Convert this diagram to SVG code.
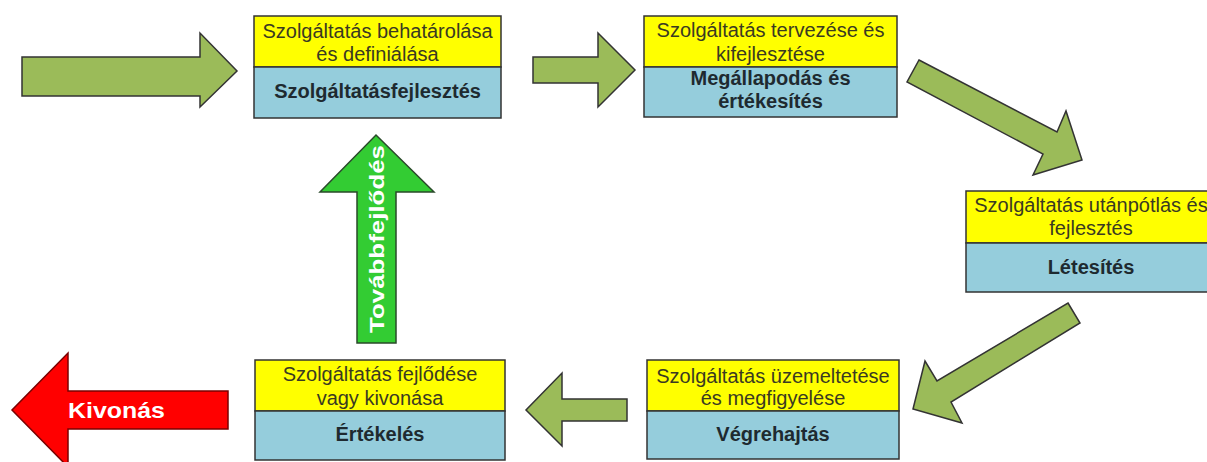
<svg xmlns="http://www.w3.org/2000/svg" width="1207" height="462" viewBox="0 0 1207 462">
  <style>
    .top { fill: #ffff00; stroke: #333; stroke-width: 1.5; }
    .bottom { fill: #95cddc; stroke: #333; stroke-width: 1.5; }
    .t { font-family: "Liberation Sans", Arial, sans-serif; font-size: 20px; fill: #3a3a22; text-anchor: middle; }
    .b { font-family: "Liberation Sans", Arial, sans-serif; font-size: 20px; font-weight: bold; fill: #1e2a30; text-anchor: middle; }
    .flow { fill: #9bbb59; stroke: #333; stroke-width: 1.5; stroke-linejoin: miter; }
    .up { fill: #33cc33; stroke: #2a4a2a; stroke-width: 1.5; }
    .out { fill: #ff0000; stroke: #7a0000; stroke-width: 1.5; }
    .lbl { font-family: "Liberation Sans", Arial, sans-serif; font-weight: bold; fill: #ffffff; }
  </style>
  <rect width="1207" height="462" fill="#ffffff"/>

  <!-- flow arrows between the stages -->
  <g id="connectors">
    <polygon class="flow" points="22,57 200,57 200,33 237,71 200,107 200,96 22,96"/>
    <polygon class="flow" points="533,57 598,57 598,33 635,70 598,107 598,83 533,83"/>
    <polygon class="flow" points="919,60 1057,132 1066,111 1082,160 1033,175 1043,154 907,82"/>
    <polygon class="flow" points="1068,303 1080,323 951,402 962,423 913,409 925,361 937,381"/>
    <polygon class="flow" points="627,399 562,399 562,373 526,410 562,446 562,421 627,421"/>
  </g>

  <g id="tovabbfejlodes">
    <polygon class="up" points="357,343 357,192 320,192 376,135 434,192 396,192 396,343"/>
    <text class="lbl" font-size="21" transform="translate(384,239) rotate(-90)" text-anchor="middle" textLength="188" lengthAdjust="spacingAndGlyphs">Továbbfejlődés</text>
  </g>

  <g id="kivonas">
    <polygon class="out" points="228,391 68,391 68,353 12,410 68,467 68,429 228,429"/>
    <text class="lbl" font-size="22" x="68" y="418" textLength="97" lengthAdjust="spacingAndGlyphs">Kivonás</text>
  </g>

  <g id="szolgaltatasfejlesztes">
    <rect class="top" x="254" y="16" width="247" height="51"/>
    <rect class="bottom" x="254" y="67" width="247" height="51"/>
    <text class="t" x="377.5" y="38">Szolgáltatás behatárolása</text>
    <text class="t" x="377.5" y="61">és definiálása</text>
    <text class="b" x="377.5" y="98">Szolgáltatásfejlesztés</text>
  </g>

  <g id="megallapodas">
    <rect class="top" x="644" y="16" width="253" height="51"/>
    <rect class="bottom" x="644" y="67" width="253" height="50"/>
    <text class="t" x="770.5" y="37">Szolgáltatás tervezése és</text>
    <text class="t" x="770.5" y="61">kifejlesztése</text>
    <text class="b" x="770.5" y="85">Megállapodás és</text>
    <text class="b" x="770.5" y="108">értékesítés</text>
  </g>

  <g id="letesites">
    <rect class="top" x="966" y="191" width="250" height="52"/>
    <rect class="bottom" x="966" y="243" width="250" height="49"/>
    <text class="t" x="1091" y="212">Szolgáltatás utánpótlás és</text>
    <text class="t" x="1091" y="235">fejlesztés</text>
    <text class="b" x="1091" y="274">Létesítés</text>
  </g>

  <g id="vegrehajtas">
    <rect class="top" x="647" y="360" width="252" height="51"/>
    <rect class="bottom" x="647" y="411" width="252" height="48"/>
    <text class="t" x="773" y="383">Szolgáltatás üzemeltetése</text>
    <text class="t" x="773" y="405">és megfigyelése</text>
    <text class="b" x="773" y="441">Végrehajtás</text>
  </g>

  <g id="ertekeles">
    <rect class="top" x="255" y="360" width="250" height="51"/>
    <rect class="bottom" x="255" y="411" width="250" height="49"/>
    <text class="t" x="380" y="381" font-size="22">Szolgáltatás fejlődése</text>
    <text class="t" x="380" y="405" font-size="22">vagy kivonása</text>
    <text class="b" x="380" y="441">Értékelés</text>
  </g>
</svg>
